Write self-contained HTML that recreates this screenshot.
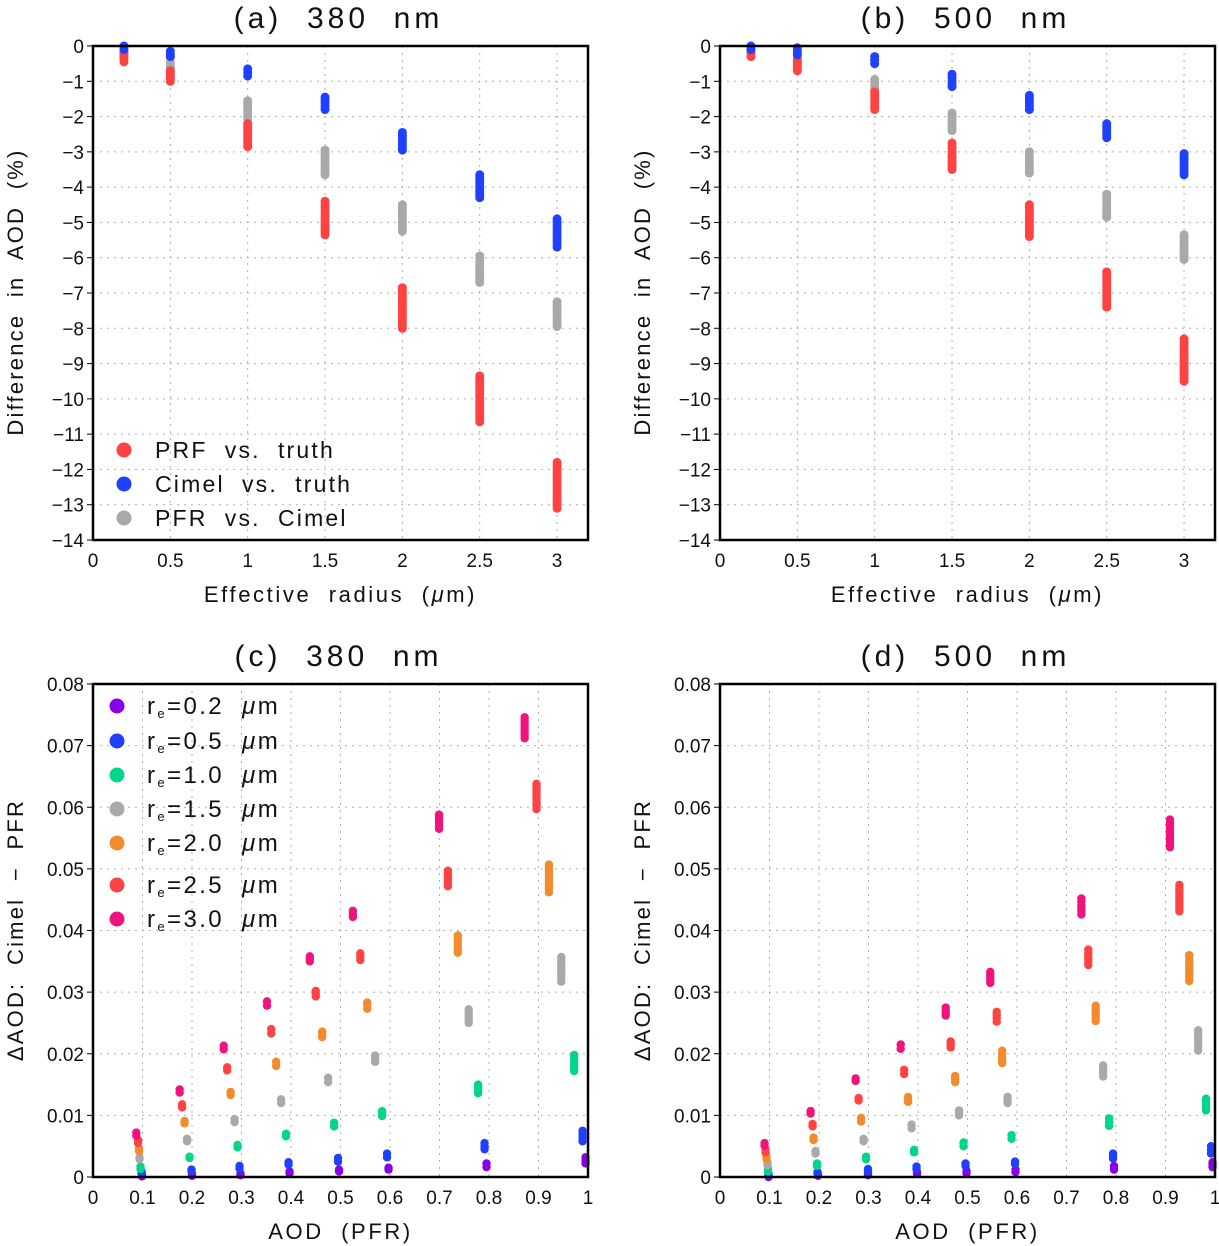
<!DOCTYPE html>
<html><head><meta charset="utf-8">
<style>
html,body{margin:0;padding:0;background:#fff;}
svg{display:block;font-family:"Liberation Sans",sans-serif;}
text{white-space:pre;}
</style></head>
<body>
<svg id="fig" width="1219" height="1246" viewBox="0 0 1219 1246" xmlns="http://www.w3.org/2000/svg"></svg>
<script>
// ---------- Panel (a)/(b) data: effective radius clusters ----------
const radii = [0.2, 0.5, 1, 1.5, 2, 2.5, 3];
const aPrfTop = [-0.2, -0.7, -2.2, -4.4, -6.85, -9.35, -11.8];
const aPrfBot = [-0.45, -1.0, -2.85, -5.35, -8.0, -10.65, -13.1];
const aCimTop = [0, -0.15, -0.65, -1.45, -2.45, -3.65, -4.9];
const aCimBot = [-0.1, -0.3, -0.85, -1.8, -2.95, -4.3, -5.7];
const aPvcTop = [-0.05, -0.45, -1.55, -2.95, -4.5, -5.95, -7.25];
const aPvcBot = [-0.35, -0.8, -2.05, -3.65, -5.25, -6.7, -7.95];
const bPrfTop = [-0.1, -0.4, -1.3, -2.75, -4.5, -6.4, -8.3];
const bPrfBot = [-0.3, -0.7, -1.8, -3.5, -5.4, -7.4, -9.5];
const bCimTop = [0, -0.05, -0.3, -0.8, -1.4, -2.2, -3.05];
const bCimBot = [-0.1, -0.25, -0.5, -1.15, -1.8, -2.6, -3.65];
const bPvcTop = [-0.05, -0.25, -0.95, -1.9, -3.0, -4.2, -5.35];
const bPvcBot = [-0.2, -0.5, -1.3, -2.4, -3.6, -4.85, -6.05];
const yTicksTop = [0,-1,-2,-3,-4,-5,-6,-7,-8,-9,-10,-11,-12,-13,-14];
const xTicksTop = [0,0.5,1,1.5,2,2.5,3];
const xTickLabelsTop = ["0","0.5","1","1.5","2","2.5","3"];

// ---------- Panel (c)/(d) data ----------
const seriesNames = ["r02","r05","r10","r15","r20","r25","r30"];
const seriesLabels = ["0.2","0.5","1.0","1.5","2.0","2.5","3.0"];
const cX = [
 [0.099,0.200,0.298,0.397,0.497,0.597,0.795,0.995],
 [0.098,0.199,0.296,0.395,0.495,0.594,0.791,0.989],
 [0.096,0.195,0.292,0.390,0.487,0.584,0.778,0.972],
 [0.094,0.190,0.286,0.380,0.475,0.570,0.759,0.946],
 [0.093,0.185,0.278,0.370,0.463,0.554,0.737,0.921],
 [0.091,0.180,0.271,0.360,0.450,0.540,0.717,0.896],
 [0.0875,0.175,0.264,0.3515,0.438,0.525,0.699,0.872]];
const cHi = [
 [0.0004,0.0005,0.0006,0.0009,0.0012,0.0015,0.0022,0.0032],
 [0.0009,0.0012,0.0018,0.0024,0.0031,0.0038,0.0055,0.0075],
 [0.0017,0.0033,0.0052,0.0070,0.0088,0.0107,0.0150,0.0198],
 [0.0031,0.0062,0.0094,0.0126,0.0161,0.0197,0.0272,0.0357],
 [0.0046,0.0091,0.0138,0.0187,0.0236,0.0283,0.0392,0.0507],
 [0.0060,0.0118,0.0178,0.0240,0.0302,0.0363,0.0497,0.0638],
 [0.0072,0.0142,0.0213,0.0285,0.0358,0.0432,0.0588,0.0746]];
const cLo = [
 [0.0001,0.0002,0.0003,0.0006,0.0009,0.0012,0.0016,0.0022],
 [0.0006,0.0010,0.0014,0.0020,0.0025,0.0032,0.0045,0.0058],
 [0.0013,0.0031,0.0048,0.0066,0.0082,0.0099,0.0136,0.0172],
 [0.0029,0.0058,0.0089,0.0120,0.0154,0.0187,0.0250,0.0317],
 [0.0042,0.0087,0.0133,0.0180,0.0227,0.0273,0.0364,0.0462],
 [0.0055,0.0113,0.0173,0.0233,0.0293,0.0352,0.0472,0.0597],
 [0.0067,0.0137,0.0207,0.0278,0.0350,0.0422,0.0565,0.0712]];
const dX = [
 [0.098,0.198,0.299,0.398,0.498,0.597,0.796,0.995],
 [0.098,0.197,0.299,0.397,0.496,0.596,0.794,0.992],
 [0.097,0.196,0.295,0.392,0.492,0.589,0.786,0.982],
 [0.096,0.193,0.290,0.387,0.483,0.581,0.774,0.966],
 [0.094,0.189,0.285,0.380,0.475,0.570,0.759,0.948],
 [0.092,0.187,0.280,0.372,0.466,0.559,0.744,0.928],
 [0.090,0.183,0.274,0.365,0.456,0.546,0.730,0.909]];
const dHi = [
 [0.0002,0.0004,0.0006,0.0008,0.0010,0.0012,0.0018,0.0024],
 [0.0005,0.0008,0.0013,0.0017,0.0022,0.0025,0.0038,0.0050],
 [0.0013,0.0022,0.0033,0.0044,0.0056,0.0068,0.0095,0.0127],
 [0.0023,0.0042,0.0062,0.0085,0.0108,0.0130,0.0181,0.0238],
 [0.0033,0.0064,0.0096,0.0130,0.0164,0.0205,0.0278,0.0360],
 [0.0044,0.0086,0.0128,0.0174,0.0220,0.0268,0.0369,0.0474],
 [0.0055,0.0107,0.0160,0.0215,0.0275,0.0333,0.0452,0.0580]];
const dLo = [
 [0.0000,0.0002,0.0003,0.0005,0.0006,0.0008,0.0012,0.0016],
 [0.0002,0.0005,0.0009,0.0013,0.0018,0.0021,0.0030,0.0038],
 [0.0009,0.0018,0.0029,0.0040,0.0050,0.0062,0.0083,0.0108],
 [0.0019,0.0038,0.0058,0.0079,0.0100,0.0120,0.0163,0.0205],
 [0.0029,0.0060,0.0090,0.0122,0.0154,0.0185,0.0253,0.0318],
 [0.0040,0.0082,0.0124,0.0167,0.0210,0.0252,0.0344,0.0431],
 [0.0051,0.0103,0.0156,0.0208,0.0262,0.0315,0.0426,0.0535]];
const yTicksBot = [0,0.01,0.02,0.03,0.04,0.05,0.06,0.07,0.08];
const yTickLabelsBot = ["0","0.01","0.02","0.03","0.04","0.05","0.06","0.07","0.08"];
const xTicksBot = [0,0.1,0.2,0.3,0.4,0.5,0.6,0.7,0.8,0.9,1];
const xTickLabelsBot = ["0","0.1","0.2","0.3","0.4","0.5","0.6","0.7","0.8","0.9","1"];

const colRE = ["#8a00e6","#1f40ff","#00d68a","#a9a9a9","#f28a2e","#ff4242","#f0137e"];
const colA = {prf:"#ff4242", cim:"#1f40ff", pvc:"#a9a9a9"};

const NS = "http://www.w3.org/2000/svg";
const svg = document.getElementById('fig');
function el(tag, attrs, parent, txt){
  const e = document.createElementNS(NS, tag);
  for (const k in attrs) e.setAttribute(k, attrs[k]);
  if (txt !== undefined) e.textContent = txt;
  (parent||svg).appendChild(e);
  return e;
}
function mkScale(d0,d1,r0,r1){ return v => r0 + (v-d0)/(d1-d0)*(r1-r0); }

function panel(id, L, R, T, B, xs, ys, xTicks, xLabels, yTicks, yLabels, title, xTitle, yTitle, yTitleY){
  const g = el('g', {});
  
  
  xTicks.forEach(t => {
    const x = xs(t);
    if (x > L+2 && x < R-2) {
      const ln = el('line', {x1:x, x2:x, y1:T, y2:B, stroke:'#b0b0b0', 'stroke-width':1, 'stroke-dasharray':'2,5'}, g);
      
      
    }
  });
  yTicks.forEach(t => {
    const y = ys(t);
    if (y > T+2 && y < B-2) {
      const ln = el('line', {x1:L, x2:R, y1:y, y2:y, stroke:'#b0b0b0', 'stroke-width':1, 'stroke-dasharray':'2,5'}, g);
      
      
    }
  });
  xTicks.forEach((t,i) => {
    const tx = el('text', {x:xs(t), y:B+27, 'text-anchor':'middle', 'font-size':19, fill:'#111'}, g, xLabels[i]);
    
    
  });
  yTicks.forEach((t,i) => {
    const tk = el('line', {x1:L-6, x2:L, y1:ys(t), y2:ys(t), stroke:'#000', 'stroke-width':1}, g);
    
    
    const tx = el('text', {x:L-9, y:ys(t)+7, 'text-anchor':'end', 'font-size':19, fill:'#111'}, g, yLabels[i]);
    
    
  });
  const tt = el('text', {x:(L+R)/2-2, y:T-18, 'text-anchor':'middle', 'font-size':30, fill:'#111', 'letter-spacing':'4'}, g, title);
  
  
  const xt = el('text', {x:(L+R)/2, y:B+62, 'text-anchor':'middle', 'font-size':22, fill:'#111', 'letter-spacing':'2.6'}, g);
  xt.innerHTML = xTitle;
  
  
  const yx = L - 70;
  const yt = el('text', {x:yx, y:yTitleY, 'text-anchor':'middle', 'font-size':22, fill:'#111', 'letter-spacing':'2.2', transform:`rotate(-90 ${yx} ${yTitleY})`}, g, yTitle);
  
  
  return g;
}
function frame(g, L, R, T, B){
  const f = el('rect', {x:L, y:T, width:R-L, height:B-T, fill:'none', stroke:'#000', 'stroke-width':2.5}, g);
  
  
}
function cluster(g, x, yTopPx, yBotPx, color, r, name){
  const c = el('g', {}, g);
  
  
  const span = yBotPx - yTopPx;
  const n = Math.max(1, Math.round(Math.abs(span)/3));
  for (let i=0;i<=n;i++){
    el('circle', {cx:x, cy:yTopPx + span*i/n, r:r, fill:color}, c);
  }
}

function topPanel(id, L, R, title, prfT, prfB, cimT, cimB, pvcT, pvcB){
  const T=46, B=540;
  const xs = mkScale(0,3.2,L,R), ys = mkScale(0,-14,T,B);
  const yLab = yTicksTop.map(v => v===0 ? "0" : "\u2212"+Math.abs(v));
  const g = panel(id, L, R, T, B, xs, ys, xTicksTop, xTickLabelsTop, yTicksTop, yLab, title,
    'Effective  radius  (<tspan font-style="italic">\u03bc</tspan>m)', 'Difference  in  AOD  (%)', 292);
  radii.forEach((r,i) => {
    cluster(g, xs(r), ys(pvcT[i]), ys(pvcB[i]), colA.pvc, 4.5, 'pfr-vs-cimel-point');
    cluster(g, xs(r), ys(prfT[i]), ys(prfB[i]), colA.prf, 4.5, 'prf-vs-truth-point');
    cluster(g, xs(r), ys(cimT[i]), ys(cimB[i]), colA.cim, 4.5, 'cimel-vs-truth-point');
  });
  frame(g, L, R, T, B);
  return g;
}
const gA = topPanel('a', 93, 588, '(a)  380  nm', aPrfTop, aPrfBot, aCimTop, aCimBot, aPvcTop, aPvcBot);
topPanel('b', 720, 1215, '(b)  500  nm', bPrfTop, bPrfBot, bCimTop, bCimBot, bPvcTop, bPvcBot);
const legA = el('g', {}, gA);


[["PRF  vs.  truth", colA.prf],["Cimel  vs.  truth", colA.cim],["PFR  vs.  Cimel", colA.pvc]].forEach((e,i) => {
  const y = 450 + i*34;
  const it = el('g', {}, legA);
  
  
  el('circle', {cx:124, cy:y, r:7.5, fill:e[1]}, it);
  el('text', {x:155, y:y+8, 'font-size':23, fill:'#111', 'letter-spacing':'2.2'}, it, e[0]);
});

function botPanel(id, L, R, title, X, HI, LO){
  const T=684, B=1177;
  const xs = mkScale(0,1,L,R), ys = mkScale(0,0.08,B,T);
  const g = panel(id, L, R, T, B, xs, ys, xTicksBot, xTickLabelsBot, yTicksBot, yTickLabelsBot, title,
    'AOD  (PFR)', '\u0394AOD:  Cimel  \u2212  PFR', 930);
  for (let s=0;s<seriesNames.length;s++){
    const sg = el('g', {}, g);
    
    
    for (let k=0;k<X[s].length;k++){
      cluster(sg, xs(X[s][k]), ys(HI[s][k]), ys(LO[s][k]), colRE[s], 4.2, 'point-' + seriesNames[s]);
    }
  }
  frame(g, L, R, T, B);
  return g;
}
const gC = botPanel('c', 93, 588, '(c)  380  nm', cX, cHi, cLo);
botPanel('d', 720, 1215, '(d)  500  nm', dX, dHi, dLo);
const legC = el('g', {}, gC);


const legY = [706,741,775,809,843,885,919];
seriesLabels.forEach((lab,i) => {
  const it = el('g', {}, legC);
  
  
  el('circle', {cx:117, cy:legY[i], r:7.5, fill:colRE[i]}, it);
  const t = el('text', {x:147, y:legY[i]+8, 'font-size':24, fill:'#111', 'letter-spacing':'2.4'}, it);
  t.innerHTML = 'r<tspan font-size="13" dy="4">e</tspan><tspan dy="-4">=' + lab + '  </tspan><tspan font-style="italic">\u03bc</tspan>m';
});
</script>
</body></html>
